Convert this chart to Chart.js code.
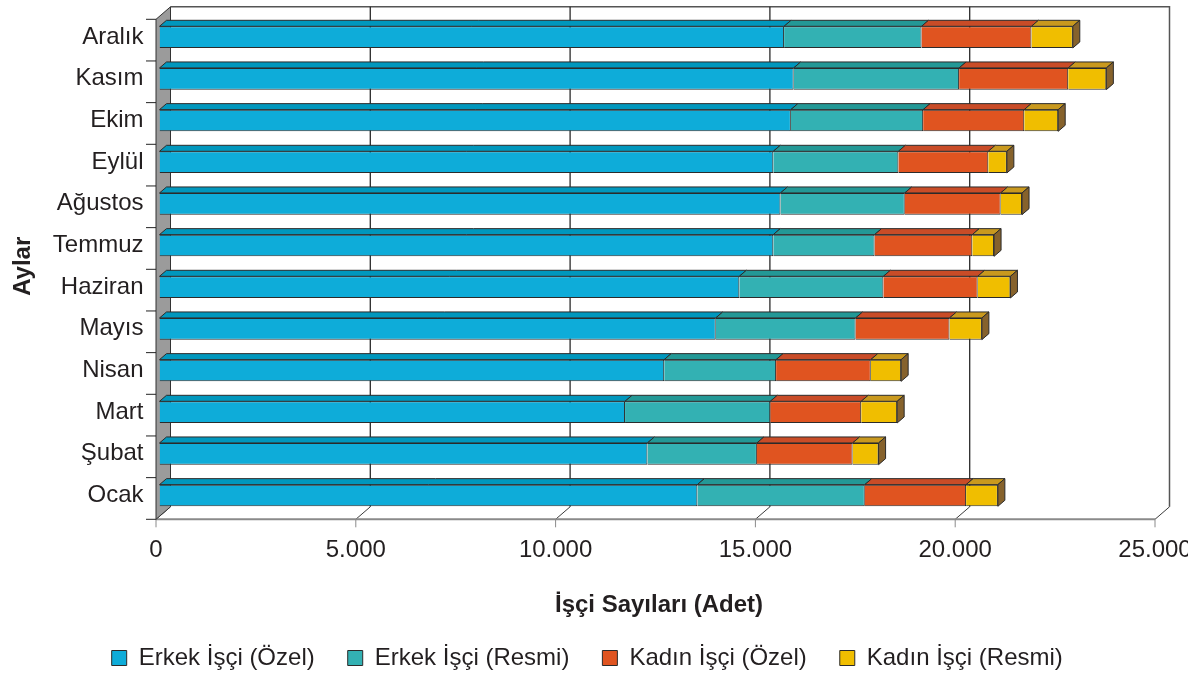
<!DOCTYPE html>
<html lang="tr">
<head>
<meta charset="utf-8">
<title>Aylara Göre İşçi Sayıları</title>
<script src="https://cdn.jsdelivr.net/npm/chart.js@4.4.1/dist/chart.umd.min.js"></script>
<style>
  html, body { margin: 0; padding: 0; background: #fff; }
  #grafik { display: block; }
</style>
</head>
<body>
<canvas id="grafik" width="1188" height="676"></canvas>
<script>
// Aylar, Ocak'tan Aralık'a (Ocak en altta çizilir)
var aylar = ['Ocak', 'Şubat', 'Mart', 'Nisan', 'Mayıs', 'Haziran', 'Temmuz', 'Ağustos', 'Eylül', 'Ekim', 'Kasım', 'Aralık'];

// İşçi sayıları (adet)
var erkekOzel  = [13460, 12210, 11650, 12630, 13920, 14510, 15360, 15540, 15360, 15800, 15870, 15630];
var erkekResmi = [4190, 2740, 3635, 2800, 3500, 3605, 2535, 3110, 3130, 3310, 4140, 3440];
var kadinOzel  = [2535, 2395, 2275, 2370, 2350, 2360, 2445, 2400, 2250, 2530, 2730, 2750];
var kadinResmi = [795, 650, 900, 760, 810, 820, 545, 535, 465, 850, 955, 1035];

var seriAdlari = ['Erkek İşçi (Özel)', 'Erkek İşçi (Resmi)', 'Kadın İşçi (Özel)', 'Kadın İşçi (Resmi)'];

// Eksen
var eksenMin = 0;
var eksenMax = 25000;
var eksenAdim = 5000;

// Renkler: ön yüz, üst yüz, yan yüz
var onRenk  = ['#0eacd9', '#33b1b3', '#e05420', '#f0be00'];
var ustRenk = ['#0097bd', '#239896', '#c94c27', '#c9991e'];
var yanRenk = ['#07708c', '#1f7a79', '#8f3a1c', '#86622c'];

var yaziTipi = "'Liberation Sans', Arial, sans-serif";
Chart.defaults.font.family = yaziTipi;
Chart.defaults.color = '#231f20';

// 3B görünüm için kaydırmalar (çubuk ön düzlemine göre)
var cubukDerinlik = { x: 7, y: -6 };
var onDuzlem = { x: -3.5, y: 3 };
var arkaDuzlem = { x: 11, y: -9.5 };

function binlik(v) {
    return String(v).replace(/\B(?=(\d{3})+(?!\d))/g, '.');
}

// Duvarlar, taban, ızgara çizgileri
var duvarlar = {
    id: 'duvarlar',
    beforeDatasetsDraw: function (chart) {
        var ctx = chart.ctx;
        var ca = chart.chartArea;
        var xs = chart.scales.x;
        var ys = chart.scales.y;
        ctx.save();

        // arka duvar
        ctx.fillStyle = '#ffffff';
        ctx.fillRect(ca.left + arkaDuzlem.x, ca.top + arkaDuzlem.y, ca.right - ca.left, ca.bottom - ca.top);
        ctx.strokeStyle = '#555555';
        ctx.lineWidth = 1.5;
        ctx.beginPath();
        ctx.moveTo(ca.left + arkaDuzlem.x, ca.top + arkaDuzlem.y);
        ctx.lineTo(ca.right + arkaDuzlem.x, ca.top + arkaDuzlem.y);
        ctx.lineTo(ca.right + arkaDuzlem.x, ca.bottom + arkaDuzlem.y);
        ctx.stroke();

        // dikey ızgara çizgileri
        ctx.strokeStyle = '#2a2a2a';
        ctx.lineWidth = 1.3;
        xs.ticks.forEach(function (t) {
            if (t.value === eksenMin || t.value === eksenMax) return;
            var px = xs.getPixelForValue(t.value) + arkaDuzlem.x;
            ctx.beginPath();
            ctx.moveTo(px, ca.top + arkaDuzlem.y);
            ctx.lineTo(px, ca.bottom + arkaDuzlem.y);
            ctx.stroke();
        });

        // taban
        var onAlt = ca.bottom + onDuzlem.y;
        var arkaAlt = ca.bottom + arkaDuzlem.y;
        ctx.strokeStyle = '#3a3a3a';
        ctx.lineWidth = 1;
        xs.ticks.forEach(function (t) {
            var px = xs.getPixelForValue(t.value);
            ctx.beginPath();
            ctx.moveTo(px + onDuzlem.x, onAlt);
            ctx.lineTo(px + arkaDuzlem.x, arkaAlt);
            ctx.stroke();
        });
        ctx.strokeStyle = '#8a8a8a';
        ctx.lineWidth = 2;
        ctx.beginPath();
        ctx.moveTo(ca.left + onDuzlem.x, onAlt);
        ctx.lineTo(ca.right + onDuzlem.x, onAlt);
        ctx.stroke();
        ctx.lineWidth = 1;
        xs.ticks.forEach(function (t) {
            var px = xs.getPixelForValue(t.value) + onDuzlem.x;
            ctx.beginPath();
            ctx.moveTo(px, onAlt);
            ctx.lineTo(px, onAlt + 8);
            ctx.stroke();
        });

        // sol duvar
        ctx.fillStyle = '#9b9b9b';
        ctx.strokeStyle = '#333333';
        ctx.lineWidth = 1;
        ctx.beginPath();
        ctx.moveTo(ca.left + onDuzlem.x, ca.top + onDuzlem.y);
        ctx.lineTo(ca.left + arkaDuzlem.x, ca.top + arkaDuzlem.y);
        ctx.lineTo(ca.left + arkaDuzlem.x, ca.bottom + arkaDuzlem.y);
        ctx.lineTo(ca.left + onDuzlem.x, ca.bottom + onDuzlem.y);
        ctx.closePath();
        ctx.fill();
        ctx.stroke();

        // ay sınırlarındaki kısa çizgiler
        ctx.strokeStyle = '#222222';
        for (var i = 0; i <= aylar.length; i++) {
            var py = ys.getPixelForValue(i - 0.5) + onDuzlem.y;
            ctx.beginPath();
            ctx.moveTo(ca.left + onDuzlem.x - 10, py);
            ctx.lineTo(ca.left + onDuzlem.x, py);
            ctx.stroke();
        }
        ctx.restore();
    }
};

// Çubukların üst ve uç yüzleri
var cubukYuzleri = {
    id: 'cubukYuzleri',
    afterDatasetsDraw: function (chart) {
        var ctx = chart.ctx;
        var son = chart.data.datasets.length - 1;
        ctx.save();
        ctx.strokeStyle = '#2b2b2b';
        ctx.lineWidth = 1;
        chart.data.datasets.forEach(function (ds, i) {
            var meta = chart.getDatasetMeta(i);
            meta.data.forEach(function (el) {
                var p = el.getProps(['x', 'y', 'base', 'height'], true);
                var ust = p.y - p.height / 2;
                var alt = p.y + p.height / 2;
                var bas = Math.min(p.base, p.x);
                var bit = Math.max(p.base, p.x);

                ctx.fillStyle = ustRenk[i];
                ctx.beginPath();
                ctx.moveTo(bas, ust);
                ctx.lineTo(bit, ust);
                ctx.lineTo(bit + cubukDerinlik.x, ust + cubukDerinlik.y);
                ctx.lineTo(bas + cubukDerinlik.x, ust + cubukDerinlik.y);
                ctx.closePath();
                ctx.fill();
                ctx.stroke();

                if (i === son) {
                    ctx.fillStyle = yanRenk[i];
                    ctx.beginPath();
                    ctx.moveTo(bit, ust);
                    ctx.lineTo(bit + cubukDerinlik.x, ust + cubukDerinlik.y);
                    ctx.lineTo(bit + cubukDerinlik.x, alt + cubukDerinlik.y);
                    ctx.lineTo(bit, alt);
                    ctx.closePath();
                    ctx.fill();
                    ctx.stroke();
                }
            });
        });
        ctx.restore();
    }
};

var seriler = [erkekOzel, erkekResmi, kadinOzel, kadinResmi];

var ctx = document.getElementById('grafik').getContext('2d');
var grafik = new Chart(ctx, {
    type: 'bar',
    data: {
        labels: aylar,
        datasets: seriler.map(function (veri, i) {
            return {
                label: seriAdlari[i],
                data: veri,
                backgroundColor: onRenk[i],
                borderColor: '#2b2b2b',
                borderWidth: 1,
                categoryPercentage: 1,
                barPercentage: 0.52
            };
        })
    },
    options: {
        indexAxis: 'y',
        responsive: false,
        animation: false,
        devicePixelRatio: 1,
        layout: {
            padding: { top: 16.3, right: 29.5, bottom: 3, left: 16 }
        },
        scales: {
            x: {
                stacked: true,
                min: eksenMin,
                max: eksenMax,
                grid: { display: false, drawTicks: false },
                border: { display: false },
                ticks: {
                    stepSize: eksenAdim,
                    padding: 20,
                    labelOffset: -3.5,
                    font: { size: 24 },
                    color: '#231f20',
                    callback: function (v) { return binlik(v); }
                },
                title: {
                    display: true,
                    text: 'İşçi Sayıları (Adet)',
                    font: { size: 24, weight: 'bold' },
                    color: '#231f20',
                    padding: { top: 0, bottom: -7 }
                },
                afterFit: function (s) {
                    s.paddingLeft = 0;
                    s.paddingRight = 0;
                    s.height = 96.7;
                }
            },
            y: {
                stacked: true,
                reverse: true,
                grid: { display: false, drawTicks: false },
                border: { display: false },
                ticks: {
                    padding: 16,
                    font: { size: 24 },
                    color: '#231f20'
                },
                title: {
                    display: true,
                    text: 'Aylar',
                    font: { size: 24, weight: 'bold' },
                    color: '#231f20',
                    padding: { top: -7, bottom: 0 }
                },
                afterFit: function (s) {
                    s.width = 143.5;
                    s.paddingTop = 0;
                    s.paddingBottom = 0;
                }
            }
        },
        plugins: {
            legend: {
                position: 'bottom',
                maxHeight: 60,
                labels: {
                    boxWidth: 15,
                    boxHeight: 15,
                    padding: 33,
                    font: { size: 24 },
                    color: '#231f20'
                }
            },
            tooltip: { enabled: false }
        }
    },
    plugins: [duvarlar, cubukYuzleri]
});
</script>
</body>
</html>
